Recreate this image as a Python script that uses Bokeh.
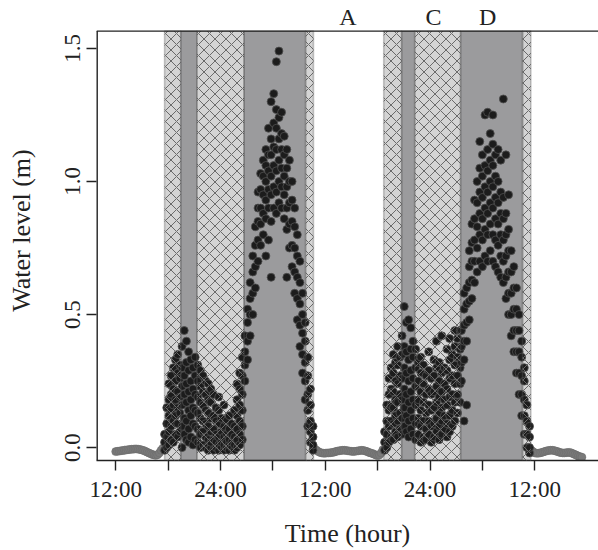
from bokeh.plotting import figure
from bokeh.models import (Range1d, FixedTicker, BoxAnnotation, Span)
from bokeh.core.properties import value
from bokeh.embed import file_html
from bokeh.resources import INLINE

FONT = "Liberation Serif"

# ---------------- data (hours since start of day 1; 12:00 = 12) ----------------
x_ticks = [12, 18, 24, 30, 36, 42, 48, 54, 60]
x_tick_labels = ["12:00", "", "24:00", "", "12:00", "", "24:00", "", "12:00"]
y_ticks = [0.0, 0.5, 1.0, 1.5]
y_tick_labels = ["0.0", "0.5", "1.0", "1.5"]

band_left = [17.6, 19.45, 21.3, 26.7, 33.75, 42.7, 44.75, 46.25, 51.5, 58.6]
band_right = [19.45, 21.3, 26.7, 33.75, 34.65, 44.75, 46.25, 51.5, 58.6, 59.55]
band_kind = ["hatch", "dark", "hatch", "dark", "hatch",
             "hatch", "dark", "hatch", "dark", "hatch"]

letters = ["A", "C", "D"]
letter_x = [38.6, 48.4, 54.6]

# baseline (daytime) readings
base_t = [12.0, 12.2, 12.4, 12.6, 12.8, 13.0, 13.2, 13.4, 13.6, 13.8, 14.0, 14.2, 14.4,
          14.6, 14.8, 15.0, 15.2, 15.4, 15.6, 15.8, 16.0, 16.2, 16.4, 16.6, 16.8, 17.0,
          17.2, 17.4,
          34.8, 35.0, 35.2, 35.4, 35.6, 35.8, 36.0, 36.2, 36.4, 36.6, 36.8, 37.0, 37.2,
          37.4, 37.6, 37.8, 38.0, 38.2, 38.4, 38.6, 38.8, 39.0, 39.2, 39.4, 39.6, 39.8,
          40.0, 40.2, 40.4, 40.6, 40.8, 41.0, 41.2, 41.4, 41.6, 41.8, 42.0, 42.2, 42.4,
          42.6,
          59.6, 59.8, 60.0, 60.2, 60.4, 60.6, 60.8, 61.0, 61.2, 61.4, 61.6, 61.8, 62.0,
          62.2, 62.4, 62.6, 62.8, 63.0, 63.2, 63.4, 63.6, 63.8, 64.0, 64.2, 64.4, 64.6,
          64.8, 65.0, 65.2, 65.4]
base_y = [-0.015, -0.014, -0.013, -0.012, -0.011, -0.010, -0.009, -0.008, -0.007, -0.006,
          -0.006, -0.005, -0.005, -0.006, -0.007, -0.009, -0.011, -0.014, -0.017, -0.020,
          -0.023, -0.026, -0.028, -0.029, -0.027, -0.020, -0.010, -0.002,
          -0.005, -0.010, -0.015, -0.018, -0.020, -0.021, -0.021, -0.020, -0.020, -0.019,
          -0.018, -0.017, -0.015, -0.013, -0.012, -0.011, -0.010, -0.010, -0.011, -0.012,
          -0.013, -0.014, -0.015, -0.014, -0.013, -0.012, -0.011, -0.010, -0.011, -0.013,
          -0.015, -0.018, -0.020, -0.022, -0.025, -0.028, -0.030, -0.028, -0.020, -0.008,
          -0.010, -0.015, -0.020, -0.021, -0.021, -0.020, -0.018, -0.016, -0.014, -0.012,
          -0.011, -0.010, -0.010, -0.011, -0.013, -0.015, -0.017, -0.019, -0.020, -0.020,
          -0.019, -0.018, -0.018, -0.020, -0.023, -0.026, -0.029, -0.032, -0.034, -0.036]

# night-time readings: sample time -> water levels observed around that time
night_t = [17.6, 17.85, 18.1, 18.35, 18.6, 18.85, 19.1, 19.35, 19.6, 19.85, 20.1, 20.35,
           20.6, 20.85, 21.1,
           21.4, 21.7, 22.0, 22.3, 22.6, 22.9, 23.2, 23.5, 23.8, 24.1, 24.4, 24.7, 25.0,
           25.3, 25.6, 25.9, 26.2, 26.5,
           26.8, 27.1, 27.4, 27.7, 28.0, 28.3, 28.6, 28.9, 29.2, 29.5, 29.8, 30.1, 30.4,
           30.7, 31.0, 31.3, 31.6, 31.9, 32.2, 32.5, 32.8, 33.1, 33.4, 33.7, 34.0, 34.3,
           34.6,
           42.8, 43.05, 43.3, 43.55, 43.8, 44.05, 44.3, 44.55, 44.8, 45.05, 45.3, 45.55,
           45.8, 46.05,
           46.35, 46.65, 46.95, 47.25, 47.55, 47.85, 48.15, 48.45, 48.75, 49.05, 49.35,
           49.65, 49.95, 50.25, 50.55, 50.85, 51.15, 51.45,
           51.6, 51.9, 52.2, 52.5, 52.8, 53.1, 53.4, 53.7, 54.0, 54.3, 54.6, 54.9, 55.2,
           55.5, 55.8, 56.1, 56.4, 56.7, 57.0, 57.3, 57.6, 57.9, 58.2, 58.5, 58.8, 59.1,
           59.4]
night_y = [
    [-0.01, 0.02, 0.05], [0.0, 0.04, 0.09, 0.15], [0.01, 0.06, 0.12, 0.18, 0.24],
    [0.03, 0.08, 0.14, 0.2, 0.27], [0.02, 0.1, 0.16, 0.22, 0.3], [0.05, 0.12, 0.18, 0.25, 0.33],
    [0.04, 0.09, 0.15, 0.21, 0.28, 0.35], [0.06, 0.13, 0.19, 0.26, 0.31],
    [0.0, 0.08, 0.16, 0.23, 0.3, 0.38], [0.05, 0.11, 0.2, 0.27, 0.44],
    [0.03, 0.1, 0.17, 0.24, 0.32, 0.4], [0.02, 0.07, 0.14, 0.21, 0.29, 0.36],
    [0.04, 0.12, 0.18, 0.25, 0.33], [0.01, 0.09, 0.15, 0.22, 0.3],
    [0.03, 0.08, 0.14, 0.2, 0.27, 0.34],
    [0.02, 0.07, 0.13, 0.19, 0.25, 0.31], [0.0, 0.05, 0.11, 0.17, 0.23, 0.29],
    [0.01, 0.06, 0.1, 0.16, 0.21, 0.27], [0.0, 0.04, 0.09, 0.14, 0.2, 0.25],
    [-0.01, 0.03, 0.08, 0.13, 0.18, 0.24], [0.0, 0.02, 0.06, 0.11, 0.17, 0.22],
    [-0.01, 0.03, 0.07, 0.12, 0.2], [0.0, 0.02, 0.05, 0.1, 0.15],
    [-0.01, 0.01, 0.04, 0.09, 0.14, 0.19], [0.0, 0.02, 0.06, 0.11],
    [-0.01, 0.01, 0.04, 0.08, 0.16], [0.0, 0.02, 0.05, 0.1],
    [-0.01, 0.01, 0.03, 0.07, 0.12], [0.0, 0.02, 0.05, 0.09],
    [-0.01, 0.01, 0.04, 0.08, 0.14], [0.0, 0.03, 0.07, 0.12, 0.18, 0.24],
    [0.01, 0.05, 0.1, 0.16, 0.22, 0.28], [0.03, 0.08, 0.14, 0.2, 0.27, 0.34],
    [0.25, 0.31, 0.36, 0.42], [0.33, 0.4, 0.47, 0.52], [0.42, 0.5, 0.56, 0.62],
    [0.5, 0.58, 0.66, 0.72], [0.6, 0.68, 0.76, 0.83], [0.7, 0.78, 0.85, 0.9, 0.96],
    [0.76, 0.84, 0.9, 0.97, 1.03], [0.8, 0.88, 0.95, 1.02, 1.08],
    [0.72, 0.86, 0.93, 1.0, 1.06, 1.12], [0.78, 0.9, 0.97, 1.04, 1.1, 1.2],
    [0.64, 0.85, 0.95, 1.02, 1.1, 1.16, 1.3], [0.9, 0.98, 1.06, 1.13, 1.22, 1.33],
    [0.88, 0.96, 1.04, 1.12, 1.2, 1.27, 1.45], [0.92, 1.0, 1.08, 1.16, 1.24, 1.49],
    [0.9, 0.98, 1.05, 1.12, 1.18, 1.26], [0.86, 0.95, 1.02, 1.1, 1.17],
    [0.64, 0.82, 0.9, 0.98, 1.05, 1.12], [0.75, 0.84, 0.92, 1.0, 1.08],
    [0.68, 0.76, 0.85, 0.93, 1.0], [0.58, 0.66, 0.75, 0.83, 0.9],
    [0.48, 0.56, 0.64, 0.72, 0.8], [0.38, 0.46, 0.54, 0.62, 0.7],
    [0.28, 0.35, 0.43, 0.5, 0.58], [0.18, 0.25, 0.32, 0.4, 0.47],
    [0.08, 0.14, 0.2, 0.27, 0.34], [0.02, 0.06, 0.1, 0.16, 0.22], [-0.01, 0.01, 0.04, 0.08],
    [-0.01, 0.02, 0.06], [0.0, 0.05, 0.1, 0.16], [0.02, 0.08, 0.14, 0.2, 0.26],
    [0.04, 0.1, 0.16, 0.22, 0.3], [0.03, 0.09, 0.15, 0.21, 0.28, 0.35],
    [0.06, 0.12, 0.18, 0.25, 0.32], [0.04, 0.1, 0.17, 0.24, 0.31, 0.38],
    [0.07, 0.13, 0.2, 0.27, 0.34], [0.05, 0.11, 0.18, 0.26, 0.35, 0.42],
    [0.08, 0.15, 0.22, 0.3, 0.38, 0.53], [0.06, 0.12, 0.2, 0.28, 0.36, 0.47],
    [0.04, 0.1, 0.17, 0.25, 0.33, 0.48], [0.07, 0.14, 0.21, 0.29, 0.37, 0.45],
    [0.05, 0.11, 0.18, 0.26, 0.34, 0.4],
    [0.03, 0.09, 0.16, 0.23, 0.3, 0.37], [0.05, 0.11, 0.18, 0.25, 0.32],
    [0.02, 0.08, 0.14, 0.21, 0.28, 0.34], [0.04, 0.1, 0.17, 0.24, 0.31],
    [0.03, 0.07, 0.13, 0.2, 0.27], [0.05, 0.1, 0.16, 0.22, 0.29, 0.36],
    [0.02, 0.08, 0.14, 0.2, 0.26], [0.04, 0.09, 0.15, 0.21, 0.27, 0.33],
    [0.06, 0.11, 0.17, 0.23, 0.3, 0.4], [0.03, 0.08, 0.13, 0.19, 0.25, 0.32],
    [0.05, 0.1, 0.15, 0.21, 0.28, 0.42], [0.07, 0.12, 0.18, 0.24, 0.3],
    [0.04, 0.09, 0.16, 0.22, 0.29, 0.37], [0.06, 0.12, 0.19, 0.26, 0.33, 0.41],
    [0.08, 0.14, 0.2, 0.27, 0.35], [0.1, 0.17, 0.24, 0.31, 0.38, 0.44],
    [0.13, 0.2, 0.27, 0.34, 0.41], [0.17, 0.24, 0.3, 0.37, 0.44],
    [0.25, 0.32, 0.38, 0.44], [0.1, 0.33, 0.4, 0.46, 0.52, 0.58], [0.16, 0.4, 0.47, 0.54, 0.6],
    [0.48, 0.55, 0.62, 0.68, 0.74], [0.56, 0.63, 0.7, 0.77, 0.84],
    [0.62, 0.7, 0.78, 0.86, 0.93], [0.66, 0.75, 0.83, 0.92, 1.0],
    [0.7, 0.8, 0.88, 0.96, 1.05, 1.15], [0.68, 0.78, 0.86, 0.94, 1.02, 1.1],
    [0.72, 0.82, 0.9, 0.98, 1.06, 1.25], [0.7, 0.8, 0.88, 0.96, 1.04, 1.12, 1.26],
    [0.74, 0.84, 0.92, 1.0, 1.08, 1.18], [0.7, 0.8, 0.9, 0.98, 1.06, 1.14, 1.25],
    [0.68, 0.78, 0.86, 0.94, 1.02, 1.1], [0.66, 0.76, 0.84, 0.92, 1.0, 1.12],
    [0.64, 0.72, 0.8, 0.88, 0.96, 1.08], [0.62, 0.7, 0.78, 0.86, 0.94, 1.31],
    [0.56, 0.64, 0.72, 0.8, 0.88, 1.1], [0.5, 0.58, 0.66, 0.74, 0.82, 0.95],
    [0.42, 0.5, 0.58, 0.66, 0.74], [0.36, 0.44, 0.52, 0.6, 0.68],
    [0.28, 0.36, 0.44, 0.52, 0.6], [0.2, 0.28, 0.36, 0.44, 0.5],
    [0.12, 0.2, 0.27, 0.34, 0.4], [0.05, 0.12, 0.18, 0.25, 0.3],
    [0.0, 0.05, 0.1, 0.16], [-0.02, 0.0, 0.04, 0.08],
]

# ---------------- figure ----------------
# The frame reaches the top of the canvas; the visible plot box top is Y1,
# and the letters sit in the white strip above it.
X0, X1 = 9.8, 67.3
Y0, Y1, YTOP = -0.0484, 1.565, 1.680
LETTER_Y = 1.617

p = figure(width=598, height=550, output_backend="svg", toolbar_location=None,
           x_range=Range1d(X0, X1), y_range=Range1d(Y0, YTOP),
           min_border_left=96, min_border_top=0, min_border_bottom=86,
           min_border_right=0, background_fill_color="white",
           border_fill_color="white")
p.outline_line_color = None
p.grid.visible = False

# band fills (under points)
for l, r, k in zip(band_left, band_right, band_kind):
    p.add_layout(BoxAnnotation(left=l, right=r, top=Y1,
                               fill_color="#d4d4d4" if k == "hatch" else "#9b9b9d",
                               fill_alpha=1.0, line_color=None, level="underlay"))

# points
bx, by = [], []
for t, ys in zip(night_t, night_y):
    for v in ys:
        bx.append(t)
        by.append(v)
p.scatter(base_t, base_y, size=8, fill_color="#7a7a7a", line_color="#6a6a6a",
          line_width=0.5)
p.scatter(bx, by, size=8, fill_color="#1c1c1c", line_color="#505050", line_width=0.8)

# hatching and outlines on top
for l, r, k in zip(band_left, band_right, band_kind):
    if k == "hatch":
        p.add_layout(BoxAnnotation(left=l, right=r, top=Y1, fill_alpha=0.0,
                                   line_color=None, hatch_pattern="x",
                                   hatch_color="#6a6a6a", hatch_weight=1.0,
                                   hatch_scale=11, hatch_alpha=1.0))
    p.add_layout(BoxAnnotation(left=l, right=r, top=Y1, fill_alpha=0.0, fill_color=None,
                               line_color="#4a4a4a", line_width=1.6))

# plot box: top line and left line (bottom line is the x axis)
p.add_layout(Span(location=Y1, dimension="width", line_color="#222222", line_width=1.4))
p.segment(x0=[X0], y0=[Y0], x1=[X0], y1=[Y1], line_color="#222222", line_width=2.8)

# axes
xa = p.xaxis[0]
xa.ticker = FixedTicker(ticks=x_ticks)
xa.major_label_overrides = {t: s for t, s in zip(x_ticks, x_tick_labels)}
ya = p.yaxis[0]
ya.ticker = FixedTicker(ticks=y_ticks)
ya.major_label_overrides = {t: s for t, s in zip(y_ticks, y_tick_labels)}
ya.major_label_orientation = "vertical"
for ax in (xa, ya):
    ax.axis_line_color = "#222222"
    ax.axis_line_width = 1.4
    ax.major_tick_line_color = "#222222"
    ax.major_tick_line_width = 1.4
    ax.major_tick_out = 10
    ax.major_tick_in = 0
    ax.minor_tick_line_color = None
    ax.major_label_text_font = FONT
    ax.major_label_text_font_size = "23px"
    ax.major_label_text_color = "#222222"
    ax.axis_label_text_font = FONT
    ax.axis_label_text_font_size = "26px"
    ax.axis_label_text_font_style = "normal"
    ax.axis_label_text_color = "#222222"
ya.axis_line_color = None
xa.axis_label = "Time (hour)"
ya.axis_label = "Water level (m)"
xa.major_label_standoff = 6
xa.axis_label_standoff = 14
ya.major_label_standoff = 6
ya.axis_label_standoff = 27

p.text(x=letter_x, y=[LETTER_Y] * len(letters), text=letters, text_align="center",
       text_baseline="middle", text_font=value(FONT), text_font_size="24px",
       text_color="#222222")

open("out.html", "w").write(file_html(p, INLINE))
